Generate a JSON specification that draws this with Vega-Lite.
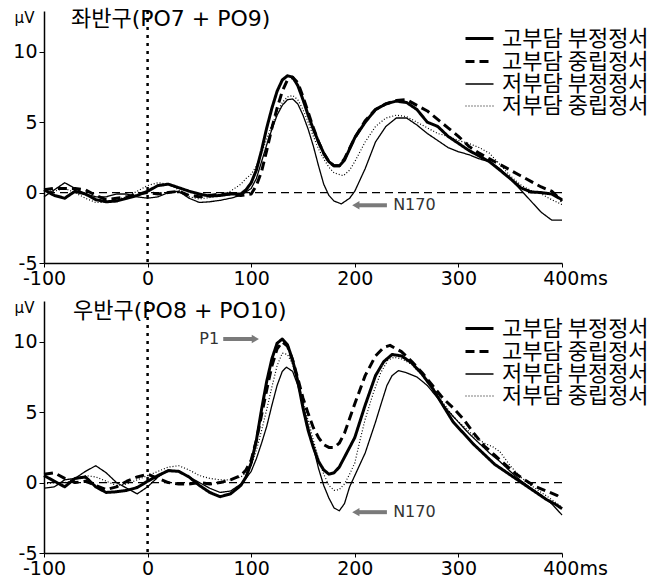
{
 "$schema": "https://vega.github.io/schema/vega-lite/v6.json",
 "background": "white",
 "padding": {"left": 12, "top": 7, "right": 0, "bottom": 0},
 "datasets": {
  "left": [
   {"c":"HN","t":-100,"v":0.2},{"c":"HN","t":-90,"v":-0.2},{"c":"HN","t":-80,"v":-0.4},{"c":"HN","t":-70,"v":0.1},{"c":"HN","t":-60,"v":-0.1},{"c":"HN","t":-50,"v":-0.5},{"c":"HN","t":-40,"v":-0.65},{"c":"HN","t":-30,"v":-0.6},{"c":"HN","t":-20,"v":-0.4},{"c":"HN","t":-10,"v":-0.2},{"c":"HN","t":0,"v":0.1},{"c":"HN","t":10,"v":0.5},{"c":"HN","t":20,"v":0.6},{"c":"HN","t":30,"v":0.35},{"c":"HN","t":40,"v":0.1},{"c":"HN","t":50,"v":-0.1},{"c":"HN","t":60,"v":-0.25},{"c":"HN","t":70,"v":-0.2},{"c":"HN","t":80,"v":-0.1},{"c":"HN","t":90,"v":-0.1},{"c":"HN","t":95,"v":0.2},{"c":"HN","t":100,"v":0.7},{"c":"HN","t":105,"v":1.6},{"c":"HN","t":110,"v":3.0},{"c":"HN","t":115,"v":4.6},{"c":"HN","t":120,"v":6.0},{"c":"HN","t":125,"v":7.2},{"c":"HN","t":130,"v":8.0},{"c":"HN","t":135,"v":8.3},{"c":"HN","t":140,"v":8.2},{"c":"HN","t":145,"v":7.6},{"c":"HN","t":150,"v":6.6},{"c":"HN","t":155,"v":5.5},{"c":"HN","t":160,"v":4.5},{"c":"HN","t":165,"v":3.6},{"c":"HN","t":170,"v":2.8},{"c":"HN","t":175,"v":2.2},{"c":"HN","t":180,"v":1.9},{"c":"HN","t":185,"v":1.9},{"c":"HN","t":190,"v":2.3},{"c":"HN","t":200,"v":3.9},{"c":"HN","t":210,"v":5.0},{"c":"HN","t":220,"v":5.9},{"c":"HN","t":230,"v":6.3},{"c":"HN","t":240,"v":6.5},{"c":"HN","t":250,"v":6.4},{"c":"HN","t":260,"v":5.9},{"c":"HN","t":270,"v":5.0},{"c":"HN","t":280,"v":4.7},{"c":"HN","t":290,"v":4.0},{"c":"HN","t":300,"v":3.5},{"c":"HN","t":310,"v":3.0},{"c":"HN","t":320,"v":2.6},{"c":"HN","t":330,"v":2.2},{"c":"HN","t":340,"v":1.6},{"c":"HN","t":350,"v":1.0},{"c":"HN","t":360,"v":0.35},{"c":"HN","t":370,"v":0.05},{"c":"HN","t":380,"v":0.0},{"c":"HN","t":390,"v":-0.1},{"c":"HN","t":400,"v":-0.5},
   {"c":"HU","t":-100,"v":0.2},{"c":"HU","t":-90,"v":0.3},{"c":"HU","t":-80,"v":0.3},{"c":"HU","t":-70,"v":0.3},{"c":"HU","t":-60,"v":0.2},{"c":"HU","t":-50,"v":-0.2},{"c":"HU","t":-40,"v":-0.5},{"c":"HU","t":-30,"v":-0.4},{"c":"HU","t":-20,"v":-0.3},{"c":"HU","t":-10,"v":-0.1},{"c":"HU","t":0,"v":0.0},{"c":"HU","t":10,"v":-0.1},{"c":"HU","t":20,"v":0.0},{"c":"HU","t":30,"v":0.1},{"c":"HU","t":40,"v":-0.2},{"c":"HU","t":50,"v":-0.3},{"c":"HU","t":60,"v":-0.2},{"c":"HU","t":70,"v":-0.1},{"c":"HU","t":80,"v":-0.1},{"c":"HU","t":90,"v":-0.2},{"c":"HU","t":100,"v":-0.1},{"c":"HU","t":105,"v":0.5},{"c":"HU","t":110,"v":1.5},{"c":"HU","t":115,"v":3.0},{"c":"HU","t":120,"v":4.6},{"c":"HU","t":125,"v":6.0},{"c":"HU","t":130,"v":7.2},{"c":"HU","t":135,"v":8.0},{"c":"HU","t":140,"v":8.2},{"c":"HU","t":145,"v":7.8},{"c":"HU","t":150,"v":6.8},{"c":"HU","t":155,"v":5.7},{"c":"HU","t":160,"v":4.6},{"c":"HU","t":165,"v":3.6},{"c":"HU","t":170,"v":2.8},{"c":"HU","t":175,"v":2.2},{"c":"HU","t":180,"v":1.9},{"c":"HU","t":185,"v":1.9},{"c":"HU","t":190,"v":2.4},{"c":"HU","t":200,"v":3.9},{"c":"HU","t":210,"v":5.1},{"c":"HU","t":220,"v":5.9},{"c":"HU","t":230,"v":6.3},{"c":"HU","t":240,"v":6.55},{"c":"HU","t":250,"v":6.6},{"c":"HU","t":260,"v":6.2},{"c":"HU","t":270,"v":5.8},{"c":"HU","t":280,"v":5.2},{"c":"HU","t":290,"v":4.6},{"c":"HU","t":300,"v":4.0},{"c":"HU","t":310,"v":3.3},{"c":"HU","t":320,"v":2.8},{"c":"HU","t":330,"v":2.4},{"c":"HU","t":340,"v":2.0},{"c":"HU","t":350,"v":1.6},{"c":"HU","t":360,"v":1.2},{"c":"HU","t":370,"v":0.8},{"c":"HU","t":380,"v":0.4},{"c":"HU","t":390,"v":0.1},{"c":"HU","t":400,"v":-0.6},
   {"c":"LN","t":-100,"v":-0.3},{"c":"LN","t":-90,"v":0.2},{"c":"LN","t":-80,"v":0.7},{"c":"LN","t":-70,"v":0.3},{"c":"LN","t":-60,"v":-0.1},{"c":"LN","t":-50,"v":-0.3},{"c":"LN","t":-40,"v":-0.3},{"c":"LN","t":-30,"v":-0.1},{"c":"LN","t":-20,"v":-0.1},{"c":"LN","t":-10,"v":-0.3},{"c":"LN","t":0,"v":-0.4},{"c":"LN","t":10,"v":-0.3},{"c":"LN","t":20,"v":0.0},{"c":"LN","t":30,"v":0.1},{"c":"LN","t":40,"v":-0.4},{"c":"LN","t":50,"v":-0.7},{"c":"LN","t":60,"v":-0.65},{"c":"LN","t":70,"v":-0.55},{"c":"LN","t":80,"v":-0.4},{"c":"LN","t":90,"v":-0.2},{"c":"LN","t":100,"v":0.3},{"c":"LN","t":105,"v":1.0},{"c":"LN","t":110,"v":2.2},{"c":"LN","t":115,"v":3.4},{"c":"LN","t":120,"v":4.5},{"c":"LN","t":125,"v":5.5},{"c":"LN","t":130,"v":6.2},{"c":"LN","t":135,"v":6.6},{"c":"LN","t":140,"v":6.65},{"c":"LN","t":145,"v":6.3},{"c":"LN","t":150,"v":5.5},{"c":"LN","t":155,"v":4.5},{"c":"LN","t":160,"v":3.3},{"c":"LN","t":165,"v":1.9},{"c":"LN","t":170,"v":0.6},{"c":"LN","t":175,"v":-0.2},{"c":"LN","t":180,"v":-0.6},{"c":"LN","t":187,"v":-0.8},{"c":"LN","t":195,"v":-0.4},{"c":"LN","t":200,"v":0.1},{"c":"LN","t":205,"v":0.9},{"c":"LN","t":210,"v":1.7},{"c":"LN","t":220,"v":3.6},{"c":"LN","t":230,"v":4.7},{"c":"LN","t":240,"v":5.3},{"c":"LN","t":250,"v":5.3},{"c":"LN","t":260,"v":4.8},{"c":"LN","t":270,"v":4.2},{"c":"LN","t":280,"v":3.7},{"c":"LN","t":290,"v":3.2},{"c":"LN","t":300,"v":2.9},{"c":"LN","t":310,"v":2.7},{"c":"LN","t":320,"v":2.4},{"c":"LN","t":330,"v":2.2},{"c":"LN","t":340,"v":1.7},{"c":"LN","t":350,"v":1.0},{"c":"LN","t":360,"v":0.2},{"c":"LN","t":370,"v":-0.6},{"c":"LN","t":380,"v":-1.4},{"c":"LN","t":390,"v":-1.95},{"c":"LN","t":400,"v":-1.95},
   {"c":"LU","t":-100,"v":0.1},{"c":"LU","t":-90,"v":0.1},{"c":"LU","t":-80,"v":0.3},{"c":"LU","t":-70,"v":0.0},{"c":"LU","t":-60,"v":-0.4},{"c":"LU","t":-50,"v":-0.7},{"c":"LU","t":-40,"v":-0.7},{"c":"LU","t":-30,"v":-0.5},{"c":"LU","t":-20,"v":-0.3},{"c":"LU","t":-10,"v":0.1},{"c":"LU","t":0,"v":0.5},{"c":"LU","t":10,"v":0.7},{"c":"LU","t":20,"v":0.6},{"c":"LU","t":30,"v":0.2},{"c":"LU","t":40,"v":-0.3},{"c":"LU","t":50,"v":-0.45},{"c":"LU","t":60,"v":-0.35},{"c":"LU","t":70,"v":-0.2},{"c":"LU","t":80,"v":0.1},{"c":"LU","t":90,"v":0.6},{"c":"LU","t":95,"v":1.0},{"c":"LU","t":100,"v":1.3},{"c":"LU","t":105,"v":1.9},{"c":"LU","t":110,"v":2.8},{"c":"LU","t":115,"v":3.8},{"c":"LU","t":120,"v":4.8},{"c":"LU","t":125,"v":5.7},{"c":"LU","t":130,"v":6.4},{"c":"LU","t":135,"v":6.8},{"c":"LU","t":140,"v":6.9},{"c":"LU","t":145,"v":6.6},{"c":"LU","t":150,"v":5.9},{"c":"LU","t":155,"v":5.0},{"c":"LU","t":160,"v":4.0},{"c":"LU","t":165,"v":3.1},{"c":"LU","t":170,"v":2.4},{"c":"LU","t":175,"v":1.8},{"c":"LU","t":180,"v":1.4},{"c":"LU","t":189,"v":1.2},{"c":"LU","t":195,"v":1.6},{"c":"LU","t":200,"v":2.2},{"c":"LU","t":210,"v":3.6},{"c":"LU","t":220,"v":4.7},{"c":"LU","t":230,"v":5.3},{"c":"LU","t":240,"v":5.5},{"c":"LU","t":250,"v":5.4},{"c":"LU","t":260,"v":5.0},{"c":"LU","t":270,"v":4.6},{"c":"LU","t":280,"v":4.2},{"c":"LU","t":290,"v":4.0},{"c":"LU","t":300,"v":3.7},{"c":"LU","t":310,"v":3.5},{"c":"LU","t":320,"v":3.2},{"c":"LU","t":330,"v":2.8},{"c":"LU","t":340,"v":2.0},{"c":"LU","t":350,"v":1.2},{"c":"LU","t":360,"v":0.55},{"c":"LU","t":370,"v":0.15},{"c":"LU","t":380,"v":-0.1},{"c":"LU","t":390,"v":-0.5},{"c":"LU","t":400,"v":-0.85}
  ],
  "right": [
   {"c":"HN","t":-100,"v":0.5},{"c":"HN","t":-90,"v":0.1},{"c":"HN","t":-80,"v":-0.3},{"c":"HN","t":-70,"v":0.3},{"c":"HN","t":-60,"v":0.4},{"c":"HN","t":-50,"v":-0.3},{"c":"HN","t":-40,"v":-0.7},{"c":"HN","t":-30,"v":-0.65},{"c":"HN","t":-20,"v":-0.55},{"c":"HN","t":-10,"v":-0.35},{"c":"HN","t":0,"v":0.1},{"c":"HN","t":10,"v":0.5},{"c":"HN","t":20,"v":0.85},{"c":"HN","t":30,"v":0.8},{"c":"HN","t":40,"v":0.4},{"c":"HN","t":50,"v":-0.2},{"c":"HN","t":60,"v":-0.7},{"c":"HN","t":70,"v":-1.0},{"c":"HN","t":80,"v":-0.8},{"c":"HN","t":90,"v":-0.2},{"c":"HN","t":95,"v":0.4},{"c":"HN","t":100,"v":1.4},{"c":"HN","t":105,"v":3.0},{"c":"HN","t":110,"v":5.2},{"c":"HN","t":115,"v":7.2},{"c":"HN","t":120,"v":8.8},{"c":"HN","t":125,"v":9.9},{"c":"HN","t":130,"v":10.2},{"c":"HN","t":135,"v":9.8},{"c":"HN","t":140,"v":8.7},{"c":"HN","t":145,"v":7.2},{"c":"HN","t":150,"v":5.3},{"c":"HN","t":155,"v":3.7},{"c":"HN","t":160,"v":2.5},{"c":"HN","t":165,"v":1.5},{"c":"HN","t":170,"v":0.9},{"c":"HN","t":175,"v":0.6},{"c":"HN","t":180,"v":0.7},{"c":"HN","t":185,"v":1.1},{"c":"HN","t":190,"v":1.8},{"c":"HN","t":200,"v":3.2},{"c":"HN","t":210,"v":5.5},{"c":"HN","t":220,"v":7.6},{"c":"HN","t":228,"v":8.6},{"c":"HN","t":236,"v":9.1},{"c":"HN","t":245,"v":9.0},{"c":"HN","t":255,"v":8.5},{"c":"HN","t":265,"v":7.7},{"c":"HN","t":275,"v":6.7},{"c":"HN","t":285,"v":5.5},{"c":"HN","t":295,"v":4.3},{"c":"HN","t":305,"v":3.5},{"c":"HN","t":315,"v":2.7},{"c":"HN","t":325,"v":2.0},{"c":"HN","t":335,"v":1.3},{"c":"HN","t":345,"v":0.8},{"c":"HN","t":355,"v":0.3},{"c":"HN","t":365,"v":-0.2},{"c":"HN","t":375,"v":-0.7},{"c":"HN","t":385,"v":-1.2},{"c":"HN","t":395,"v":-1.6},{"c":"HN","t":400,"v":-1.85},
   {"c":"HU","t":-100,"v":0.6},{"c":"HU","t":-90,"v":0.7},{"c":"HU","t":-80,"v":0.3},{"c":"HU","t":-70,"v":0.0},{"c":"HU","t":-60,"v":0.1},{"c":"HU","t":-50,"v":-0.2},{"c":"HU","t":-40,"v":-0.5},{"c":"HU","t":-30,"v":-0.3},{"c":"HU","t":-20,"v":0.1},{"c":"HU","t":-10,"v":0.4},{"c":"HU","t":0,"v":0.6},{"c":"HU","t":10,"v":0.3},{"c":"HU","t":20,"v":0.0},{"c":"HU","t":30,"v":-0.1},{"c":"HU","t":40,"v":-0.1},{"c":"HU","t":50,"v":0.0},{"c":"HU","t":60,"v":-0.1},{"c":"HU","t":70,"v":0.0},{"c":"HU","t":80,"v":0.2},{"c":"HU","t":90,"v":0.5},{"c":"HU","t":95,"v":0.9},{"c":"HU","t":100,"v":1.6},{"c":"HU","t":105,"v":3.0},{"c":"HU","t":110,"v":4.8},{"c":"HU","t":115,"v":6.6},{"c":"HU","t":120,"v":8.3},{"c":"HU","t":125,"v":9.5},{"c":"HU","t":130,"v":10.0},{"c":"HU","t":135,"v":9.7},{"c":"HU","t":140,"v":8.7},{"c":"HU","t":145,"v":7.4},{"c":"HU","t":150,"v":6.0},{"c":"HU","t":155,"v":4.9},{"c":"HU","t":160,"v":3.9},{"c":"HU","t":165,"v":3.2},{"c":"HU","t":170,"v":2.7},{"c":"HU","t":175,"v":2.5},{"c":"HU","t":180,"v":2.5},{"c":"HU","t":185,"v":2.8},{"c":"HU","t":190,"v":3.5},{"c":"HU","t":200,"v":5.6},{"c":"HU","t":210,"v":7.6},{"c":"HU","t":220,"v":9.0},{"c":"HU","t":228,"v":9.6},{"c":"HU","t":234,"v":9.75},{"c":"HU","t":245,"v":9.3},{"c":"HU","t":255,"v":8.6},{"c":"HU","t":265,"v":7.8},{"c":"HU","t":275,"v":6.9},{"c":"HU","t":285,"v":6.0},{"c":"HU","t":295,"v":5.3},{"c":"HU","t":305,"v":4.5},{"c":"HU","t":315,"v":3.5},{"c":"HU","t":325,"v":2.6},{"c":"HU","t":335,"v":1.95},{"c":"HU","t":345,"v":1.3},{"c":"HU","t":355,"v":0.65},{"c":"HU","t":365,"v":0.15},{"c":"HU","t":375,"v":-0.3},{"c":"HU","t":385,"v":-0.6},{"c":"HU","t":395,"v":-0.9},{"c":"HU","t":400,"v":-1.15},
   {"c":"LN","t":-100,"v":-0.4},{"c":"LN","t":-90,"v":-0.3},{"c":"LN","t":-80,"v":0.2},{"c":"LN","t":-70,"v":0.3},{"c":"LN","t":-60,"v":0.8},{"c":"LN","t":-50,"v":1.2},{"c":"LN","t":-40,"v":0.7},{"c":"LN","t":-30,"v":0.0},{"c":"LN","t":-20,"v":-0.4},{"c":"LN","t":-10,"v":-0.8},{"c":"LN","t":0,"v":-0.3},{"c":"LN","t":10,"v":0.4},{"c":"LN","t":20,"v":0.9},{"c":"LN","t":30,"v":0.8},{"c":"LN","t":40,"v":0.4},{"c":"LN","t":50,"v":0.0},{"c":"LN","t":60,"v":-0.4},{"c":"LN","t":70,"v":-0.7},{"c":"LN","t":80,"v":-0.6},{"c":"LN","t":90,"v":-0.1},{"c":"LN","t":95,"v":0.3},{"c":"LN","t":100,"v":0.8},{"c":"LN","t":105,"v":1.7},{"c":"LN","t":110,"v":2.8},{"c":"LN","t":115,"v":4.0},{"c":"LN","t":120,"v":5.5},{"c":"LN","t":125,"v":6.9},{"c":"LN","t":130,"v":7.9},{"c":"LN","t":134,"v":8.2},{"c":"LN","t":140,"v":7.9},{"c":"LN","t":145,"v":6.9},{"c":"LN","t":150,"v":5.5},{"c":"LN","t":155,"v":4.0},{"c":"LN","t":160,"v":2.5},{"c":"LN","t":165,"v":1.0},{"c":"LN","t":170,"v":-0.2},{"c":"LN","t":175,"v":-1.1},{"c":"LN","t":180,"v":-1.8},{"c":"LN","t":185,"v":-2.0},{"c":"LN","t":190,"v":-1.5},{"c":"LN","t":195,"v":-0.3},{"c":"LN","t":200,"v":0.5},{"c":"LN","t":205,"v":1.3},{"c":"LN","t":210,"v":2.1},{"c":"LN","t":215,"v":3.2},{"c":"LN","t":220,"v":4.3},{"c":"LN","t":225,"v":5.5},{"c":"LN","t":231,"v":6.9},{"c":"LN","t":236,"v":7.6},{"c":"LN","t":242,"v":7.95},{"c":"LN","t":250,"v":7.8},{"c":"LN","t":260,"v":7.5},{"c":"LN","t":270,"v":6.9},{"c":"LN","t":280,"v":6.0},{"c":"LN","t":290,"v":5.1},{"c":"LN","t":300,"v":4.3},{"c":"LN","t":310,"v":3.5},{"c":"LN","t":320,"v":2.8},{"c":"LN","t":330,"v":2.1},{"c":"LN","t":340,"v":1.5},{"c":"LN","t":350,"v":0.8},{"c":"LN","t":360,"v":0.15},{"c":"LN","t":370,"v":-0.4},{"c":"LN","t":380,"v":-0.9},{"c":"LN","t":390,"v":-1.5},{"c":"LN","t":400,"v":-2.3},
   {"c":"LU","t":-100,"v":-0.1},{"c":"LU","t":-90,"v":0.0},{"c":"LU","t":-80,"v":0.0},{"c":"LU","t":-70,"v":0.2},{"c":"LU","t":-60,"v":0.5},{"c":"LU","t":-50,"v":0.4},{"c":"LU","t":-40,"v":0.1},{"c":"LU","t":-30,"v":-0.2},{"c":"LU","t":-20,"v":-0.1},{"c":"LU","t":-10,"v":0.2},{"c":"LU","t":0,"v":0.5},{"c":"LU","t":10,"v":0.8},{"c":"LU","t":20,"v":1.1},{"c":"LU","t":30,"v":1.2},{"c":"LU","t":40,"v":0.9},{"c":"LU","t":50,"v":0.5},{"c":"LU","t":60,"v":0.3},{"c":"LU","t":70,"v":0.2},{"c":"LU","t":80,"v":0.2},{"c":"LU","t":90,"v":0.4},{"c":"LU","t":95,"v":0.7},{"c":"LU","t":100,"v":1.2},{"c":"LU","t":105,"v":2.3},{"c":"LU","t":110,"v":3.7},{"c":"LU","t":115,"v":5.2},{"c":"LU","t":120,"v":6.8},{"c":"LU","t":125,"v":8.3},{"c":"LU","t":130,"v":9.2},{"c":"LU","t":135,"v":9.1},{"c":"LU","t":140,"v":8.4},{"c":"LU","t":145,"v":7.2},{"c":"LU","t":150,"v":5.8},{"c":"LU","t":155,"v":4.4},{"c":"LU","t":160,"v":3.0},{"c":"LU","t":165,"v":1.7},{"c":"LU","t":170,"v":0.6},{"c":"LU","t":175,"v":-0.2},{"c":"LU","t":180,"v":-0.55},{"c":"LU","t":185,"v":-0.5},{"c":"LU","t":190,"v":-0.1},{"c":"LU","t":195,"v":0.6},{"c":"LU","t":200,"v":1.4},{"c":"LU","t":205,"v":3.0},{"c":"LU","t":210,"v":4.5},{"c":"LU","t":218,"v":6.4},{"c":"LU","t":225,"v":7.8},{"c":"LU","t":232,"v":8.7},{"c":"LU","t":238,"v":8.9},{"c":"LU","t":245,"v":8.8},{"c":"LU","t":255,"v":8.4},{"c":"LU","t":265,"v":7.6},{"c":"LU","t":275,"v":6.8},{"c":"LU","t":285,"v":5.7},{"c":"LU","t":295,"v":4.7},{"c":"LU","t":305,"v":4.0},{"c":"LU","t":315,"v":3.3},{"c":"LU","t":325,"v":2.8},{"c":"LU","t":333,"v":2.55},{"c":"LU","t":340,"v":2.2},{"c":"LU","t":350,"v":1.2},{"c":"LU","t":360,"v":0.4},{"c":"LU","t":370,"v":-0.2},{"c":"LU","t":380,"v":-0.7},{"c":"LU","t":390,"v":-1.2},{"c":"LU","t":400,"v":-1.75}
  ]
 },
 "bounds": "flush",
 "spacing": 38,
 "resolve": {"legend": {"strokeDash": "independent", "strokeWidth": "independent"}, "scale": {"strokeDash": "independent", "strokeWidth": "independent"}},
 "vconcat": [
  {
   "width": 518, "height": 252,
   "layer": [
    {"data": {"values": [{}]}, "mark": {"type": "rule", "color": "black", "strokeDash": [8, 5], "strokeWidth": 1.2}, "encoding": {"y": {"datum": 0}}},
    {"data": {"values": [{}]}, "mark": {"type": "rule", "color": "black", "strokeDash": [3, 5], "strokeWidth": 2.5}, "encoding": {"x": {"datum": 0}}},
    {
     "data": {"name": "left"},
     "mark": {"type": "line", "color": "black", "strokeCap": "butt", "strokeJoin": "round"},
     "encoding": {
      "x": {"field": "t", "type": "quantitative", "scale": {"domain": [-100, 400], "nice": false, "zero": false},
            "axis": {"values": [-100, 0, 100, 200, 300, 400], "labelExpr": "datum.value == 400 ? '400ms' : '' + datum.value", "labelOffset": {"condition": {"test": "datum.value == 400", "value": 13}, "value": 0}}},
      "y": {"field": "v", "type": "quantitative", "scale": {"domain": [-5, 12.9], "nice": false, "zero": false},
            "axis": {"values": [-5, 0, 5, 10], "labelExpr": "'' + datum.value", "title": "μV"}},
      "strokeDash": {"field": "c", "type": "nominal", "scale": {"domain": ["HN", "HU", "LN", "LU"], "range": [[1, 0], [9, 5], [1, 0], [1, 2]]},
            "legend": {"orient": "none", "legendX": 424, "legendY": 16, "labelExpr": "datum.label == 'HN' ? '고부담 부정정서' : datum.label == 'HU' ? '고부담 중립정서' : datum.label == 'LN' ? '저부담 부정정서' : '저부담 중립정서'"}},
      "strokeWidth": {"field": "c", "type": "nominal", "scale": {"type": "ordinal", "domain": ["HN", "HU", "LN", "LU"], "range": [3, 3, 1.3, 1.2]},
            "legend": {"orient": "none", "legendX": 424, "legendY": 16, "labelExpr": "datum.label == 'HN' ? '고부담 부정정서' : datum.label == 'HU' ? '고부담 중립정서' : datum.label == 'LN' ? '저부담 부정정서' : '저부담 중립정서'"}}
     }
    },
    {"data": {"values": [{}]}, "mark": {"type": "rule", "color": "#7a7a7a", "strokeWidth": 4}, "encoding": {"x": {"datum": 204}, "x2": {"datum": 231}, "y": {"datum": -0.9}}},
    {"data": {"values": [{}]}, "mark": {"type": "point", "shape": "triangle-left", "filled": true, "color": "#7a7a7a", "size": 70, "opacity": 1}, "encoding": {"x": {"datum": 201}, "y": {"datum": -0.9}}},
    {"data": {"values": [{}]}, "mark": {"type": "text", "text": "N170", "align": "left", "baseline": "middle", "font": "DejaVu Sans", "fontSize": 16, "color": "#333333"}, "encoding": {"x": {"datum": 237}, "y": {"datum": -0.9}}},
    {"data": {"values": [{}]}, "mark": {"type": "text", "text": "좌반구(PO7 + PO9)", "align": "left", "baseline": "middle", "font": "DejaVu Sans, Noto Sans CJK KR", "fontSize": 22, "color": "black"}, "encoding": {"x": {"datum": -74}, "y": {"datum": 12.35}}}
   ]
  },
  {
   "width": 518, "height": 252,
   "layer": [
    {"data": {"values": [{}]}, "mark": {"type": "rule", "color": "black", "strokeDash": [8, 5], "strokeWidth": 1.2}, "encoding": {"y": {"datum": 0}}},
    {"data": {"values": [{}]}, "mark": {"type": "rule", "color": "black", "strokeDash": [3, 5], "strokeWidth": 2.5}, "encoding": {"x": {"datum": 0}}},
    {
     "data": {"name": "right"},
     "mark": {"type": "line", "color": "black", "strokeCap": "butt", "strokeJoin": "round"},
     "encoding": {
      "x": {"field": "t", "type": "quantitative", "scale": {"domain": [-100, 400], "nice": false, "zero": false},
            "axis": {"values": [-100, 0, 100, 200, 300, 400], "labelExpr": "datum.value == 400 ? '400ms' : '' + datum.value", "labelOffset": {"condition": {"test": "datum.value == 400", "value": 13}, "value": 0}}},
      "y": {"field": "v", "type": "quantitative", "scale": {"domain": [-5, 12.9], "nice": false, "zero": false},
            "axis": {"values": [-5, 0, 5, 10], "labelExpr": "'' + datum.value", "title": "μV"}},
      "strokeDash": {"field": "c", "type": "nominal", "scale": {"domain": ["HN", "HU", "LN", "LU"], "range": [[1, 0], [9, 5], [1, 0], [1, 2]]},
            "legend": {"orient": "none", "legendX": 424, "legendY": 16, "labelExpr": "datum.label == 'HN' ? '고부담 부정정서' : datum.label == 'HU' ? '고부담 중립정서' : datum.label == 'LN' ? '저부담 부정정서' : '저부담 중립정서'"}},
      "strokeWidth": {"field": "c", "type": "nominal", "scale": {"type": "ordinal", "domain": ["HN", "HU", "LN", "LU"], "range": [3, 3, 1.3, 1.2]},
            "legend": {"orient": "none", "legendX": 424, "legendY": 16, "labelExpr": "datum.label == 'HN' ? '고부담 부정정서' : datum.label == 'HU' ? '고부담 중립정서' : datum.label == 'LN' ? '저부담 부정정서' : '저부담 중립정서'"}}
     }
    },
    {"data": {"values": [{}]}, "mark": {"type": "rule", "color": "#7a7a7a", "strokeWidth": 4}, "encoding": {"x": {"datum": 204}, "x2": {"datum": 231}, "y": {"datum": -2.1}}},
    {"data": {"values": [{}]}, "mark": {"type": "point", "shape": "triangle-left", "filled": true, "color": "#7a7a7a", "size": 70, "opacity": 1}, "encoding": {"x": {"datum": 201}, "y": {"datum": -2.1}}},
    {"data": {"values": [{}]}, "mark": {"type": "text", "text": "N170", "align": "left", "baseline": "middle", "font": "DejaVu Sans", "fontSize": 16, "color": "#333333"}, "encoding": {"x": {"datum": 237}, "y": {"datum": -2.1}}},
    {"data": {"values": [{}]}, "mark": {"type": "rule", "color": "#7a7a7a", "strokeWidth": 4}, "encoding": {"x": {"datum": 73}, "x2": {"datum": 101}, "y": {"datum": 10.2}}},
    {"data": {"values": [{}]}, "mark": {"type": "point", "shape": "triangle-right", "filled": true, "color": "#7a7a7a", "size": 70, "opacity": 1}, "encoding": {"x": {"datum": 104}, "y": {"datum": 10.2}}},
    {"data": {"values": [{}]}, "mark": {"type": "text", "text": "P1", "align": "right", "baseline": "middle", "font": "DejaVu Sans", "fontSize": 16, "color": "#333333"}, "encoding": {"x": {"datum": 69}, "y": {"datum": 10.2}}},
    {"data": {"values": [{}]}, "mark": {"type": "text", "text": "우반구(PO8 + PO10)", "align": "left", "baseline": "middle", "font": "DejaVu Sans, Noto Sans CJK KR", "fontSize": 22, "color": "black"}, "encoding": {"x": {"datum": -72}, "y": {"datum": 12.2}}}
   ]
  }
 ],
 "config": {
  "view": {"stroke": null},
  "font": "DejaVu Sans",
  "axis": {"grid": false, "domainColor": "black", "domainWidth": 1.5, "tickColor": "black", "labelColor": "black", "labelFont": "DejaVu Sans", "labelFontSize": 19, "labelFlush": false, "labelOverlap": false, "labelBound": false},
  "axisX": {"title": null, "ticks": true, "tickSize": 4, "labelPadding": 2},
  "axisY": {"tickSize": 5, "labelPadding": 2, "titleAngle": 0, "titleX": -20, "titleY": 6, "titleAlign": "center", "titleBaseline": "middle", "titleFont": "DejaVu Sans", "titleFontSize": 15, "titleFontWeight": "normal", "titleColor": "black"},
  "legend": {"title": null, "symbolType": "M-1.4,0H1.4", "symbolSize": 400, "symbolStrokeColor": "black", "labelFont": "Noto Sans CJK KR", "labelFontSize": 22, "labelColor": "black", "labelOffset": 11, "rowPadding": -0.5, "padding": 0}
 }
}
